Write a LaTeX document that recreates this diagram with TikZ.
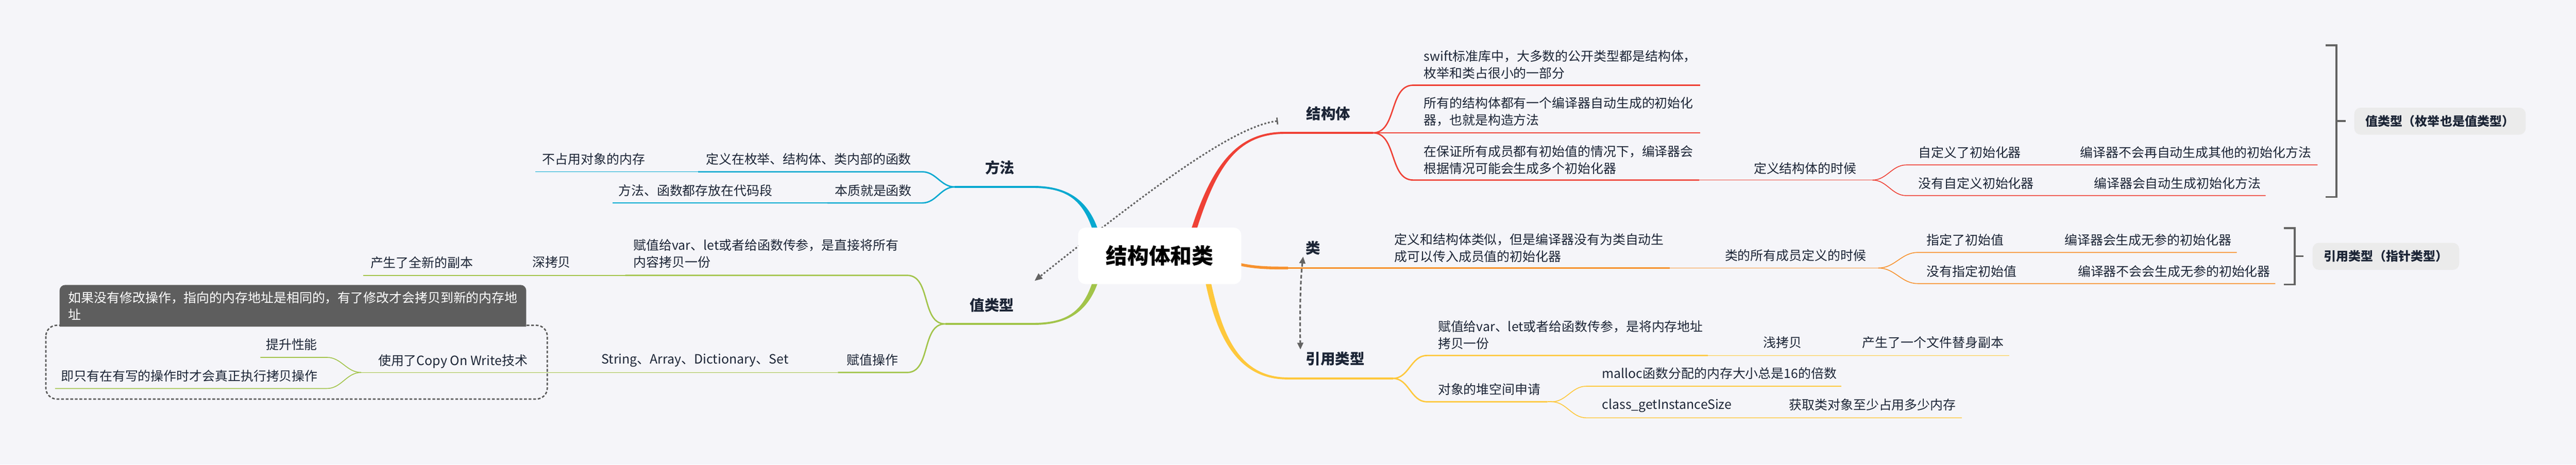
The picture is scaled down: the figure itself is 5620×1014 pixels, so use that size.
\documentclass[tikz,border=0pt]{standalone}
\usepackage{fontspec}
\setmainfont{Noto Sans CJK SC}
\usetikzlibrary{arrows.meta}
\definecolor{bgc}{HTML}{F5F5F9}
\definecolor{ink}{HTML}{1C2536}
\definecolor{cred}{HTML}{EF4136}
\definecolor{cblue}{HTML}{08A9D0}
\definecolor{cgreen}{HTML}{A2C44A}
\definecolor{corange}{HTML}{F7922F}
\definecolor{cyellow}{HTML}{FEC83C}
\definecolor{cgray}{HTML}{636363}
\definecolor{cdark}{HTML}{5E5E5E}
\definecolor{clabel}{HTML}{EBEBEB}
\newcommand\twoline[2]{\begin{tabular}[t]{@{}l@{}}#1\\#2\end{tabular}}
\begin{document}
\begin{tikzpicture}[x=1pt,y=-1pt,
  txt/.style={anchor=base west,inner sep=0pt,text=ink,font=\fontsize{28}{37}\selectfont},
  topic/.style={anchor=base west,inner sep=0pt,text=ink,font=\fontsize{32}{38}\selectfont\bfseries},
  wone/.style={line width=4.5pt},
  wtwo/.style={line width=3pt},
  wthree/.style={line width=1.8pt},
  bracketline/.style={draw=cgray,line width=4pt},
  labelbox/.style={anchor=west,fill=clabel,rounded corners=14pt,inner xsep=25pt,inner ysep=0pt,minimum height=59pt,text=ink,font=\fontsize{27}{32}\selectfont\bfseries},
  relarrow/.style={draw=cgray,line width=3.5pt}
]
\useasboundingbox (0,0) rectangle (5620,1014);
\fill[bgc] (0,0) rectangle (5620,1014);

% ---------- junction and end coordinates ----------
\coordinate (jfa) at (2083,408);
\coordinate (jzl) at (2062,707);
\coordinate (jjg) at (2995,290);
\coordinate (jdy) at (4085,393);
\coordinate (jlei) at (4098,585);
\coordinate (jyy) at (3039,826);
\coordinate (jdui) at (3385,877);
\coordinate (jcow) at (788,813);

% ---------- main tapered branches ----------
\fill[cblue] (2383,500) .. controls (2360,432) and (2322,410) .. (2253,410.2)
  -- (2253,405.8) .. controls (2318,405.5) and (2370,428) .. (2395,500) -- cycle;
\fill[cgreen] (2383,617) .. controls (2360,685) and (2322,704.8) .. (2253,704.8)
  -- (2253,709.2) .. controls (2318,709.5) and (2370,689) .. (2395,617) -- cycle;
\fill[cred] (2611,500) .. controls (2655,362) and (2700,292.2) .. (2803,292.2)
  -- (2803,287.8) .. controls (2700,287.5) and (2645,358) .. (2599,500) -- cycle;
\fill[cyellow] (2642,617) .. controls (2666,728) and (2702,823.8) .. (2809,823.8)
  -- (2809,828.2) .. controls (2698,828.5) and (2654,732) .. (2630,617) -- cycle;
\draw[corange,line width=6pt] (2700,576) .. controls (2740,585) and (2770,585) .. (2810,585);

% ---------- 方法 ----------
\draw[cblue,wone] (2254,408) -- (jfa);
\draw[cblue,wtwo] (jfa) to[out=180,in=0] (2012,375) -- (1523,375);
\draw[cblue,wthree] (1523,375) -- (1168,375);
\draw[cblue,wtwo] (jfa) to[out=180,in=0] (2012,443) -- (1805,443);
\draw[cblue,wthree] (1805,443) -- (1336,443);

% ---------- 值类型 ----------
\draw[cgreen,wone] (2254,707) -- (jzl);
\draw[cgreen,wtwo] (jzl) to[out=180,in=0] (1979,601) -- (1364,601);
\draw[cgreen,wthree] (1364,601) -- (792,601);
\draw[cgreen,wtwo] (jzl) to[out=180,in=0] (1979,813) -- (1828,813);
\draw[cgreen,wthree] (1828,813) -- (jcow);

% Copy-on-write boundary and callout
\draw[cgray!90!black,line width=3pt,dash pattern=on 6pt off 4pt,rounded corners=24pt] (100,710) rectangle (1194,871);
\draw[cgreen,wthree] (jcow) to[out=180,in=0] (713,780) -- (568,780);
\draw[cgreen,wthree] (jcow) to[out=180,in=0] (713,848) -- (120,848);
\fill[cdark,rounded corners=12pt] (130,713) -- (130,622) -- (1148,622) [sharp corners] -- (1148,713) -- cycle;

% ---------- 结构体 ----------
\draw[cred,wone] (2802,290) -- (jjg);
\draw[cred,wtwo] (jjg) to[out=0,in=180] (3083,186) -- (3709,186);
\draw[cred,wtwo] (jjg) -- (3709,290);
\draw[cred,wtwo] (jjg) to[out=0,in=180] (3083,393) -- (3707,393);
\draw[cred,wthree] (3707,393) -- (jdy);
\draw[cred,wthree] (jdy) to[out=0,in=180] (4159,360) -- (5056,360);
\draw[cred,wthree] (jdy) to[out=0,in=180] (4159,427) -- (4943,427);

% ---------- 类 ----------
\draw[corange,wtwo] (2808,585) -- (3643,585);
\draw[corange,wthree] (3643,585) -- (jlei);
\draw[corange,wthree] (jlei) to[out=0,in=180] (4184,551) -- (4880,551);
\draw[corange,wthree] (jlei) to[out=0,in=180] (4184,619) -- (4964,619);

% ---------- 引用类型 ----------
\draw[cyellow,wone] (2808,826) -- (jyy);
\draw[cyellow,wtwo] (jyy) to[out=0,in=180] (3113,776) -- (3726,776);
\draw[cyellow,wthree] (3726,776) -- (4383,776);
\draw[cyellow,wtwo] (jyy) to[out=0,in=180] (3113,877) -- (3376,877);
\draw[cyellow,wthree] (3376,877) -- (jdui);
\draw[cyellow,wthree] (jdui) to[out=0,in=180] (3461,843) -- (4017,843);
\draw[cyellow,wthree] (jdui) to[out=0,in=180] (3461,912) -- (4280,912);

% ---------- relationship arrows ----------
\draw[relarrow,dash pattern=on 4pt off 4pt,{Bar[width=15pt,line width=3pt]}-{Triangle[length=17pt,width=14pt]}]
  (2788,264) .. controls (2690,275) and (2500,420) .. (2257,613);

% ---------- center ----------
\node[fill=white,rounded corners=16pt,minimum width=356pt,minimum height=123pt,inner sep=0pt,
  text=black,font=\fontsize{47}{50}\selectfont\bfseries] (root) at (2530,558.5) {结构体和类};

\draw[relarrow,dash pattern=on 8pt off 5pt,{Triangle[length=15pt,width=13pt]}-{Triangle[length=15pt,width=13pt]}]
  (2843,560) .. controls (2836,620) and (2836,700) .. (2837,763);

% ---------- topic texts ----------
\node[topic] (tfa) at (2149,378) {方法};
\node[topic] (tzl) at (2116,678) {值类型};
\node[topic] (tjg) at (2850,260) {结构体};
\node[topic] (tlei) at (2849,554) {类};
\node[topic] (tyy) at (2849,795) {引用类型};

% 方法 children
\node[txt] (fa1) at (1540,358) {定义在枚举、结构体、类内部的函数};
\node[txt] (fa1a) at (1183,358) {不占用对象的内存};
\node[txt] (fa2) at (1821,426) {本质就是函数};
\node[txt] (fa2a) at (1349,426) {方法、函数都存放在代码段};

% 值类型 children
\node[txt] (zl1) at (1382,546) {\twoline{赋值给var、let或者给函数传参，是直接将所有}{内容拷贝一份}};
\node[txt] (zl1a) at (1161,583) {深拷贝};
\node[txt] (zl1b) at (808,584) {产生了全新的副本};
\node[txt] (zl2) at (1847,796) {赋值操作};
\node[txt] (zl2a) at (1312,794) {String、Array、Dictionary、Set};
\node[txt] (cow) at (825,797) {使用了Copy On Write技术};
\node[txt] (cow1) at (580,763) {提升性能};
\node[txt] (cow2) at (133,831) {即只有在有写的操作时才会真正执行拷贝操作};
\node[txt,text=white] (cowt) at (149,660) {\twoline{如果没有修改操作，指向的内存地址是相同的，有了修改才会拷贝到新的内存地}{址}};

% 结构体 children
\node[txt] (jg1) at (3106,133) {\twoline{swift标准库中，大多数的公开类型都是结构体，}{枚举和类占很小的一部分}};
\node[txt] (jg2) at (3106,236) {\twoline{所有的结构体都有一个编译器自动生成的初始化}{器，也就是构造方法}};
\node[txt] (jg3) at (3106,341) {\twoline{在保证所有成员都有初始值的情况下，编译器会}{根据情况可能会生成多个初始化器}};
\node[txt] (jg3a) at (3826,378) {定义结构体的时候};
\node[txt] (jg3b) at (4185,343) {自定义了初始化器};
\node[txt] (jg3c) at (4538,343) {编译器不会再自动生成其他的初始化方法};
\node[txt] (jg3d) at (4185,411) {没有自定义初始化器};
\node[txt] (jg3e) at (4568,411) {编译器会自动生成初始化方法};

% 类 children
\node[txt] (lei1) at (3042,533) {\twoline{定义和结构体类似，但是编译器没有为类自动生}{成可以传入成员值的初始化器}};
\node[txt] (lei1a) at (3763,568) {类的所有成员定义的时候};
\node[txt] (lei1b) at (4203,535) {指定了初始值};
\node[txt] (lei1c) at (4504,535) {编译器会生成无参的初始化器};
\node[txt] (lei1d) at (4203,603) {没有指定初始值};
\node[txt] (lei1e) at (4533,603) {编译器不会会生成无参的初始化器};

% 引用类型 children
\node[txt] (yy1) at (3137,723) {\twoline{赋值给var、let或者给函数传参，是将内存地址}{拷贝一份}};
\node[txt] (yy1a) at (3847,758) {浅拷贝};
\node[txt] (yy1b) at (4063,758) {产生了一个文件替身副本};
\node[txt] (yy2) at (3137,860) {对象的堆空间申请};
\node[txt] (yy2a) at (3495,826) {malloc函数分配的内存大小总是16的倍数};
\node[txt] (yy2b) at (3495,893) {class\_getInstanceSize};
\node[txt] (yy2c) at (3903,894) {获取类对象至少占用多少内存};

% ---------- summary brackets ----------
\draw[bracketline] (5074,99) -- (5097,99) -- (5097,430) -- (5074,430);
\coordinate (bt1) at (5097,264);
\draw[bracketline] (bt1) -- (5118,264);
\node[labelbox] (sum1) at (5136,264.5) {值类型（枚举也是值类型）};
\draw[bracketline] (4983,498) -- (5006,498) -- (5006,621) -- (4983,621);
\coordinate (bt2) at (5006,559);
\draw[bracketline] (bt2) -- (5025,559);
\node[labelbox] (sum2) at (5045,559.5) {引用类型（指针类型）};
\end{tikzpicture}
\end{document}
